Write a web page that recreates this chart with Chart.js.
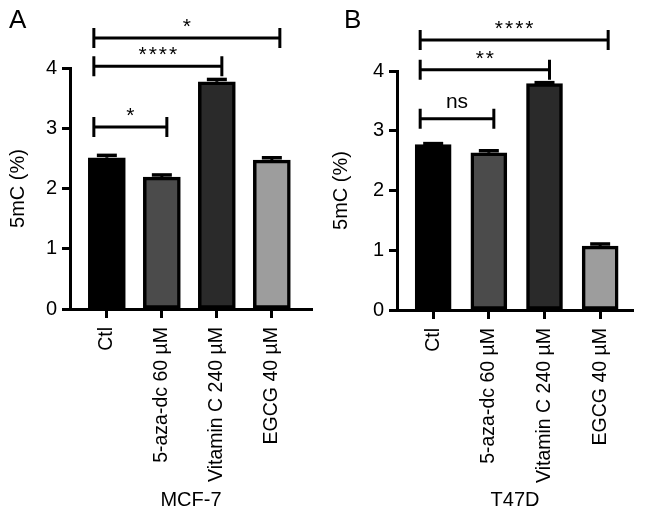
<!DOCTYPE html>
<html><head><meta charset="utf-8">
<script src="https://cdn.jsdelivr.net/npm/chart.js@4.4.0/dist/chart.umd.min.js"></script>
<style>
html,body{margin:0;padding:0;background:#fff;}
#wrap{position:relative;width:646px;height:516px;overflow:hidden;}
canvas{position:absolute;top:0;}
</style></head><body>
<div id="wrap">
<canvas id="a" width="323" height="516" style="left:0"></canvas>
<canvas id="b" width="323" height="516" style="left:323px"></canvas>
</div>
<script>
const categories = ['Ctl', '5-aza-dc 60 µM', 'Vitamin C 240 µM', 'EGCG 40 µM'];
const yTicks = [0, 1, 2, 3, 4];
const barColors = ['#000000', '#4b4b4b', '#2a2a2a', '#9d9d9d'];

const mcf7Values = [2.51, 2.19, 3.77, 2.47];
const mcf7Errors = [0.04, 0.035, 0.04, 0.04];
const mcf7BracketPairs = [[0, 1], [0, 2], [0, 3]];
const mcf7BracketLevels = [3.02, 4.03, 4.50];
const mcf7BracketLabels = ['*', '****', '*'];

const t47dValues = [2.77, 2.63, 3.79, 1.07];
const t47dErrors = [0.015, 0.035, 0.015, 0.035];
const t47dBracketPairs = [[0, 1], [0, 2], [0, 3]];
const t47dBracketLevels = [3.20, 4.02, 4.52];
const t47dBracketLabels = ['ns', '**', '****'];

const F = "'Liberation Sans', Arimo, Arial, Helvetica, sans-serif";
const W = 323, H = 516;

function makePanel(id, letter, title, values, errors, pairs, levels, labels, g) {
  const overlay = {
    id: 'overlay_' + id,
    afterDatasetsDraw(chart) {
      const {ctx, scales: {x, y}} = chart;
      ctx.save();
      ctx.strokeStyle = '#000';
      ctx.lineWidth = 3;
      values.forEach((v, i) => {
        const px = x.getPixelForValue(i);
        const base = y.getPixelForValue(v);
        const top = y.getPixelForValue(v + errors[i]);
        ctx.beginPath();
        ctx.moveTo(px, base); ctx.lineTo(px, top);
        ctx.stroke();
        ctx.lineWidth = 3.5;
        ctx.beginPath();
        ctx.moveTo(px - 10, top); ctx.lineTo(px + 10, top);
        ctx.stroke();
        ctx.lineWidth = 3;
      });
      ctx.restore();
    },
    afterDraw(chart) {
      const {ctx, scales: {x, y}} = chart;
      ctx.save();
      ctx.strokeStyle = '#000';
      ctx.fillStyle = '#000';
      ctx.lineWidth = 3;
      pairs.forEach((p, k) => {
        const last = p[1] === categories.length - 1 && p[0] === 0;
        const x1 = x.getPixelForValue(p[0]) - 13;
        const x2 = x.getPixelForValue(p[1]) + (last ? 8 : 5);
        const yy = y.getPixelForValue(levels[k]);
        ctx.beginPath();
        ctx.moveTo(x1, yy); ctx.lineTo(x2, yy);
        ctx.moveTo(x1, yy - 10); ctx.lineTo(x1, yy + 10);
        ctx.moveTo(x2, yy - 10); ctx.lineTo(x2, yy + 10);
        ctx.stroke();
        const lab = labels[k];
        ctx.textAlign = 'center';
        ctx.textBaseline = 'alphabetic';
        if (lab === 'ns') {
          ctx.font = '21px ' + F;
          ctx.fillText(lab, (x1 + x2) / 2, yy - 11);
        } else {
          ctx.font = '21px ' + F;
          if ('letterSpacing' in ctx) ctx.letterSpacing = '2px';
          ctx.fillText(lab, (x1 + x2) / 2 + 1, yy - 5);
          if ('letterSpacing' in ctx) ctx.letterSpacing = '0px';
        }
      });
      ctx.font = '26px ' + F;
      ctx.textAlign = 'left';
      ctx.textBaseline = 'alphabetic';
      ctx.fillText(letter, g.letterX, 28);
      ctx.restore();
    }
  };

  return new Chart(document.getElementById(id), {
    type: 'bar',
    data: {
      datasets: [{
        data: values.map((v, i) => ({x: i, y: v})),
        backgroundColor: barColors,
        borderColor: '#000',
        borderWidth: 3.5,
        borderSkipped: false,
        barThickness: g.barW
      }]
    },
    plugins: [overlay],
    options: {
      responsive: false,
      animation: false,
      layout: {padding: {top: g.top, right: W - g.right, bottom: 0, left: 0}},
      plugins: {legend: {display: false}, tooltip: {enabled: false}},
      scales: {
        x: {
          type: 'linear',
          bounds: 'data',
          min: g.xmin, max: g.xmax,
          offset: false,
          afterBuildTicks: s => { s.ticks = categories.map((c, i) => ({value: i})); },
          afterFit: s => { s.height = H - g.bottom; },
          ticks: {
            autoSkip: false, maxRotation: 90, minRotation: 90, padding: 9,
            color: '#000', font: {family: F, size: 19.5},
            callback: v => categories[v]
          },
          grid: {drawOnChartArea: false, drawTicks: true, tickLength: 9, tickWidth: 3, tickColor: '#000', offset: false},
          border: {display: true, color: '#000', width: 3},
          title: {display: true, text: title, color: '#000', font: {family: F, size: 20}, padding: {top: 0, bottom: 4}}
        },
        y: {
          min: 0, max: 4,
          afterBuildTicks: s => { s.ticks = yTicks.map(v => ({value: v})); },
          afterFit: s => { s.width = g.left; },
          ticks: {padding: 5, color: '#000', font: {family: F, size: 20}},
          grid: {drawOnChartArea: false, drawTicks: true, tickLength: 8, tickWidth: 3, tickColor: '#000'},
          border: {display: true, color: '#000', width: 3},
          title: {display: true, text: '5mC (%)', color: '#000', font: {family: F, size: 20}, padding: {top: 6, bottom: 0}}
        }
      }
    }
  });
}

makePanel('a', 'A', 'MCF-7', mcf7Values, mcf7Errors, mcf7BracketPairs, mcf7BracketLevels, mcf7BracketLabels,
  {left: 70, right: 312, top: 68, bottom: 309, xmin: -0.67, xmax: 3.73, barW: 37, letterX: 9});
makePanel('b', 'B', 'T47D', t47dValues, t47dErrors, t47dBracketPairs, t47dBracketLevels, t47dBracketLabels,
  {left: 74, right: 310, top: 71, bottom: 310, xmin: -0.65, xmax: 3.59, barW: 36, letterX: 21});
</script>
</body></html>
